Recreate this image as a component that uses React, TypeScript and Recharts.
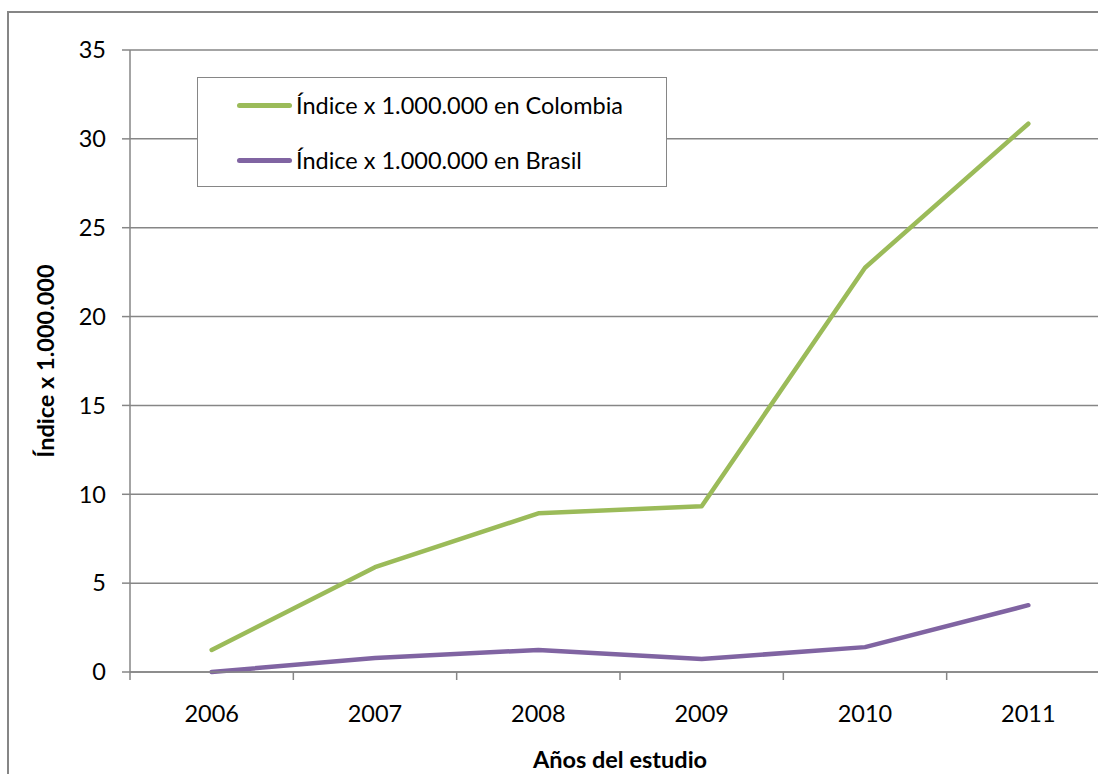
import { CartesianGrid, Line, LineChart, XAxis, YAxis } from 'recharts';

const years = ['2006', '2007', '2008', '2009', '2010', '2011'];
const colombia = [1.24, 5.9, 8.93, 9.33, 22.75, 30.85];
const brasil = [0, 0.79, 1.24, 0.73, 1.4, 3.76];
const yTicks = [0, 5, 10, 15, 20, 25, 30, 35];

const seriesNames = {
  colombia: 'Índice x 1.000.000 en Colombia',
  brasil: 'Índice x 1.000.000 en Brasil',
};

const rows = years.map((year, i) => ({ year, colombia: colombia[i], brasil: brasil[i] }));

const FONT = 'Lato, "Open Sans", sans-serif';
const GRID = '#868686';
const GREEN = '#9bbb59';
const PURPLE = '#8064a2';

function YearTick(props: any) {
  const { x, y, payload, index } = props;
  const half = payload?.offset || 81.7;
  return (
    <g>
      <line x1={x - half} y1={y} x2={x - half} y2={y + 8} stroke={GRID} strokeWidth={1.5} />
      {index === years.length - 1 && (
        <line x1={x + half} y1={y} x2={x + half} y2={y + 8} stroke={GRID} strokeWidth={1.5} />
      )}
      <text x={x} y={y + 50} textAnchor="middle" fontSize={23.5} fontFamily={FONT} fill="#000">
        {payload.value}
      </text>
    </g>
  );
}

function YTitle(props: any) {
  const vb = props.viewBox;
  const cy = vb.y + vb.height / 2;
  return (
    <text
      x={45}
      y={cy}
      transform={`rotate(-90 45 ${cy})`}
      textAnchor="middle"
      dominantBaseline="central"
      fontSize={23.5}
      fontWeight="bold"
      fontFamily={FONT}
      fill="#000"
    >
      Índice x 1.000.000
    </text>
  );
}

function XTitle(props: any) {
  const vb = props.viewBox;
  return (
    <text
      x={vb.x + vb.width / 2}
      y={768}
      textAnchor="middle"
      fontSize={23.5}
      fontWeight="bold"
      fontFamily={FONT}
      fill="#000"
    >
      Años del estudio
    </text>
  );
}

function LegendBox() {
  const items = [
    { color: GREEN, label: seriesNames.colombia },
    { color: PURPLE, label: seriesNames.brasil },
  ];
  return (
    <div
      style={{
        position: 'absolute',
        left: 197,
        top: 77,
        width: 470,
        height: 110,
        border: `1.5px solid ${GRID}`,
        background: '#fff',
        boxSizing: 'border-box',
        paddingTop: 0,
      }}
    >
      {items.map((it, i) => (
        <div
          key={it.label}
          style={{ position: 'absolute', left: 0, top: 27 + i * 55 - 14, height: 28, display: 'flex', alignItems: 'center' }}
        >
          <div
            style={{
              marginLeft: 39,
              width: 55,
              height: 5,
              borderRadius: 3,
              background: it.color,
            }}
          />
          <span style={{ marginLeft: 4, fontSize: 23.5, fontFamily: FONT, color: '#000', lineHeight: '28px' }}>
            {it.label}
          </span>
        </div>
      ))}
    </div>
  );
}

export default function App() {
  return (
    <div
      style={{
        position: 'absolute',
        left: 0,
        top: 0,
        width: 1098,
        height: 774,
        overflow: 'hidden',
        background: '#fff',
      }}
    >
      <div
        style={{
          position: 'absolute',
          left: 7,
          top: 11,
          width: 1200,
          height: 900,
          border: `2px solid ${GRID}`,
        }}
      />
      <div style={{ position: 'absolute', left: 0, top: 0 }}>
        <LineChart width={1112} height={774} data={rows} margin={{ top: 50, right: 2, bottom: 0, left: 0 }}>
          <CartesianGrid horizontal vertical={false} stroke={GRID} strokeWidth={1.5} />
          <XAxis
            dataKey="year"
            scale="band"
            height={102}
            stroke={GRID}
            strokeWidth={1.5}
            tickLine={false}
            tickSize={0}
            tickMargin={0}
            tick={<YearTick />}
            interval={0}
            label={<XTitle />}
          />
          <YAxis
            width={130}
            domain={[0, 35]}
            ticks={yTicks}
            interval={0}
            stroke={GRID}
            strokeWidth={1.5}
            tickSize={8}
            tickMargin={16}
            tick={{ fill: '#000', fontSize: 23.5, fontFamily: FONT }}
            label={<YTitle />}
          />
          <Line
            dataKey="colombia"
            name={seriesNames.colombia}
            type="linear"
            stroke={GREEN}
            strokeWidth={4.5}
            strokeLinecap="round"
            strokeLinejoin="round"
            dot={false}
            activeDot={false}
            isAnimationActive={false}
          />
          <Line
            dataKey="brasil"
            name={seriesNames.brasil}
            type="linear"
            stroke={PURPLE}
            strokeWidth={4.5}
            strokeLinecap="round"
            strokeLinejoin="round"
            dot={false}
            activeDot={false}
            isAnimationActive={false}
          />
        </LineChart>
      </div>
      <LegendBox />
    </div>
  );
}
